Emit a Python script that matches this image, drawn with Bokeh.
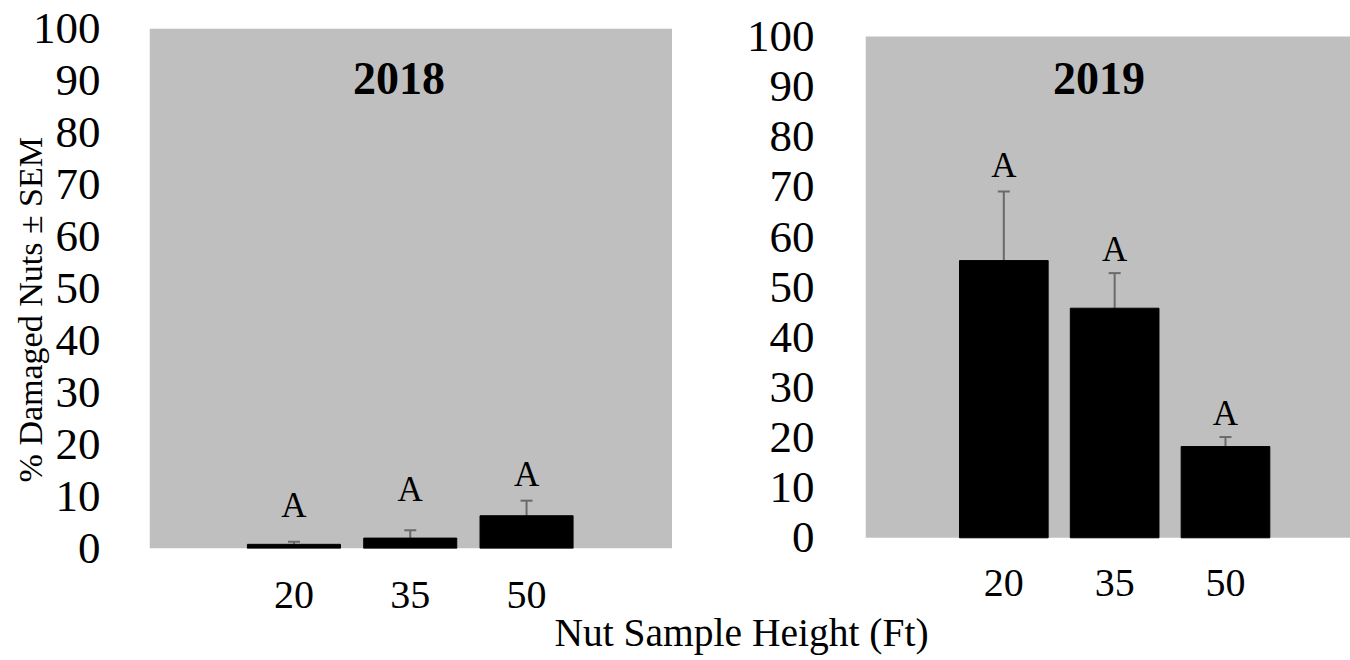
from bokeh.plotting import figure
from bokeh.layouts import row, column
from bokeh.models import FixedTicker, Whisker, TeeHead, ColumnDataSource, Range1d, BoxAnnotation
from bokeh.core.properties import value
from bokeh.embed import file_html
from bokeh.resources import INLINE

# ---- data ----
heights = ["20", "35", "50"]
years = ["2018", "2019"]
mean_2018 = [0.8, 2.0, 6.3]
sem_2018 = [0.5, 1.5, 2.9]
letters_2018 = ["A", "A", "A"]
letter_y_2018 = [8.2, 11.3, 14.3]
mean_2019 = [55.3, 45.8, 18.2]
sem_2019 = [13.8, 7.0, 1.9]
letters_2019 = ["A", "A", "A"]
letter_y_2019 = [74.3, 57.6, 24.7]
y_ticks = list(range(0, 101, 10))
y_title = "% Damaged Nuts ± SEM"
x_title = "Nut Sample Height (Ft)"

FONT = "Liberation Serif"
GRAY = "#bfbfbf"
ERR = "#6a6a6a"
H = 624
TOP = 28
BOTTOM = H - 548


def panel(year, means, sems, letters, letter_y, xr, yr, title_x, title_y,
          width, bl, ystand, xstand):
    idx = list(range(len(heights)))
    src = ColumnDataSource(dict(
        x=idx, top=means,
        upper=[m + s for m, s in zip(means, sems)],
        ly=letter_y, lt=letters))
    p = figure(width=width, height=H, output_backend="svg",
               toolbar_location=None, x_range=Range1d(*xr), y_range=Range1d(*yr),
               min_border_left=bl, min_border_right=0, min_border_top=TOP,
               min_border_bottom=BOTTOM)
    p.border_fill_color = "white"
    p.background_fill_color = "white"
    p.outline_line_color = None
    p.xgrid.visible = False
    p.ygrid.visible = False
    p.add_layout(BoxAnnotation(bottom=y_ticks[0], top=y_ticks[-1], fill_color=GRAY,
                               fill_alpha=1.0, line_color=None, level="underlay"))
    p.vbar(x="x", top="top", width=0.8, source=src, fill_color="black",
           line_color="black")
    p.add_layout(Whisker(base="x", lower="top", upper="upper", source=src,
                         line_color=ERR, line_width=2,
                         upper_head=TeeHead(size=12, line_color=ERR, line_width=2),
                         lower_head=None))
    p.text(x="x", y="ly", text="lt", source=src, text_font=value(FONT),
           text_font_size="35px", text_align="center", text_baseline="middle",
           text_color="black")
    p.text(x=[title_x], y=[title_y], text=[year],
           text_font=value(FONT), text_font_size="46px", text_font_style="bold",
           text_align="center", text_baseline="middle", text_color="black")
    p.yaxis.ticker = FixedTicker(ticks=y_ticks)
    p.yaxis.major_label_text_font = FONT
    p.yaxis.major_label_text_font_size = "45px"
    p.yaxis.major_label_text_color = "black"
    p.yaxis.major_label_standoff = ystand
    p.yaxis.axis_line_color = None
    p.yaxis.major_tick_line_color = None
    p.yaxis.minor_tick_line_color = None
    p.xaxis.ticker = FixedTicker(ticks=idx)
    p.xaxis.major_label_overrides = {i: h for i, h in zip(idx, heights)}
    p.xaxis.major_label_text_font = FONT
    p.xaxis.major_label_text_font_size = "40px"
    p.xaxis.major_label_text_color = "black"
    p.xaxis.major_label_standoff = xstand
    p.xaxis.axis_line_color = None
    p.xaxis.major_tick_line_color = None
    p.xaxis.minor_tick_line_color = None
    return p


# left panel: frame 149..672 x 28..548 (0..100)
p1 = panel(years[0], mean_2018, sem_2018, letters_2018, letter_y_2018,
           (-1.242, 3.255), (0, 100), (398.5 - 293.5) / 116.3, 90.4,
           672, 149, 43, 27)
# right panel: plotting area 865..1350 x 36..537 (0..100), frame shared 28..548
sc = (537.3 - 36.0) / 100.0
p2 = panel(years[1], mean_2019, sem_2019, letters_2019, letter_y_2019,
           (-1.248, 3.128), (-(548 - 537.3) / sc, 100 + (36 - 28) / sc),
           (1098.5 - 1003.3) / 110.8, 91.6,
           678, 193, 45, 15)

p1.yaxis.axis_label = y_title + "\u00a0" * 5
p1.yaxis.axis_label_text_font = FONT
p1.yaxis.axis_label_text_font_size = "34px"
p1.yaxis.axis_label_text_font_style = "normal"
p1.yaxis.axis_label_text_color = "black"
p1.yaxis.axis_label_standoff = -19

p3 = figure(width=1350, height=52, output_backend="svg", toolbar_location=None,
            x_range=Range1d(0, 1350), y_range=Range1d(0, 52), min_border=0)
p3.axis.visible = False
p3.grid.visible = False
p3.outline_line_color = None
p3.background_fill_alpha = 0
p3.border_fill_alpha = 0
p3.styles = {"margin-top": "-16px"}
p3.text(x=[741], y=[28], text=[x_title], text_font=value(FONT),
        text_font_size="39.5px", text_align="center", text_baseline="middle",
        text_color="black")

layout = column(row(p1, p2, spacing=0), p3, spacing=0)
open("out.html", "w").write(file_html(layout, INLINE))
